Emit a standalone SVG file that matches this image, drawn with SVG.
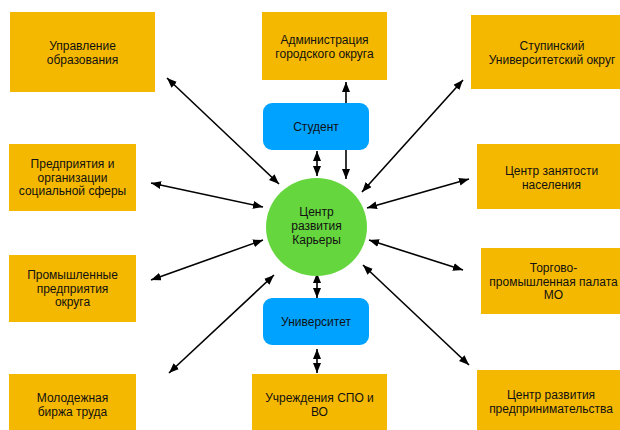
<svg xmlns="http://www.w3.org/2000/svg" width="620" height="430" viewBox="0 0 620 430">
<defs>
<style>
.box{fill:#F5B800;}
.blue{fill:#00A2FF;}
.green{fill:#66D63F;}
text{font-family:"Liberation Sans",Arial,sans-serif;font-size:12px;fill:#111;text-anchor:middle;}
.conn line{stroke:#000;stroke-width:1.6;marker-start:url(#ah);marker-end:url(#ah);}
</style>
<marker id="ah" viewBox="0 0 10 8" refX="10" refY="4" markerWidth="10" markerHeight="8" markerUnits="userSpaceOnUse" orient="auto-start-reverse">
<path d="M0,0 L10,4 L0,8 z" fill="#000"/>
</marker>
</defs>
<rect width="620" height="430" fill="#fff"/>
<g class="conn" id="connectors">
<line x1="167" y1="78" x2="279" y2="184"/>
<line x1="151" y1="183" x2="263" y2="207"/>
<line x1="151" y1="280" x2="263" y2="240"/>
<line x1="169" y1="373" x2="274" y2="275"/>
<line x1="346" y1="82" x2="346" y2="179"/>
<line x1="317" y1="151" x2="317" y2="176"/>
<line x1="463" y1="80" x2="362" y2="192"/>
<line x1="469" y1="179" x2="367" y2="208"/>
<line x1="369" y1="240" x2="463" y2="270"/>
<line x1="363" y1="265" x2="469" y2="365"/>
<line x1="317" y1="273" x2="317" y2="298"/>
<line x1="317" y1="349" x2="317" y2="373"/>
</g>
<g id="n-upravlenie"><rect class="box" x="10" y="12" width="145" height="80"/><text x="82.5" y="50">Управление</text><text x="82.5" y="64">образования</text></g>
<g id="n-admin"><rect class="box" x="262" y="12" width="125" height="68"/><text x="324.5" y="44">Администрация</text><text x="324.5" y="58">городского округа</text></g>
<g id="n-stupino"><rect class="box" x="471" y="15" width="162" height="74"/><text x="552" y="50">Ступинский</text><text x="552" y="64">Университетский округ</text></g>
<g id="n-zanyatost"><rect class="box" x="477" y="144" width="150" height="65"/><text x="551.5" y="175">Центр занятости</text><text x="551.5" y="189">населения</text></g>
<g id="n-predpr"><rect class="box" x="9" y="144" width="127" height="67"/><text x="72.5" y="168">Предприятия и</text><text x="72.5" y="181.5">организации</text><text x="72.5" y="195">социальной сферы</text></g>
<g id="n-prom"><rect class="box" x="9" y="255" width="127" height="67"/><text x="72.5" y="279">Промышленные</text><text x="72.5" y="292.5">предприятия</text><text x="72.5" y="306">округа</text></g>
<g id="n-molod"><rect class="box" x="9" y="374" width="127" height="60"/><text x="72.5" y="402">Молодежная</text><text x="72.5" y="416">биржа труда</text></g>
<g id="n-spo"><rect class="box" x="252" y="374" width="135" height="60"/><text x="319.5" y="402">Учреждения СПО и</text><text x="319.5" y="416">ВО</text></g>
<g id="n-tpp"><rect class="box" x="481" y="248" width="146" height="66"/><text x="553.5" y="272">Торгово-</text><text x="553.5" y="285.5">промышленная палата</text><text x="553.5" y="299">МО</text></g>
<g id="n-crp"><rect class="box" x="477" y="370" width="150" height="64"/><text x="551" y="399">Центр развития</text><text x="551" y="413">предпринимательства</text></g>
<g id="n-student"><rect class="blue" x="263" y="103" width="106" height="47" rx="9"/><text x="316" y="131">Студент</text></g>
<g id="n-univ"><rect class="blue" x="263" y="298" width="106" height="47" rx="9"/><text x="316" y="326">Университет</text></g>
<g id="n-center"><ellipse class="green" cx="316.5" cy="227" rx="50.5" ry="49"/><text x="316.5" y="216">Центр</text><text x="316.5" y="230">развития</text><text x="316.5" y="244">Карьеры</text></g>
</svg>
